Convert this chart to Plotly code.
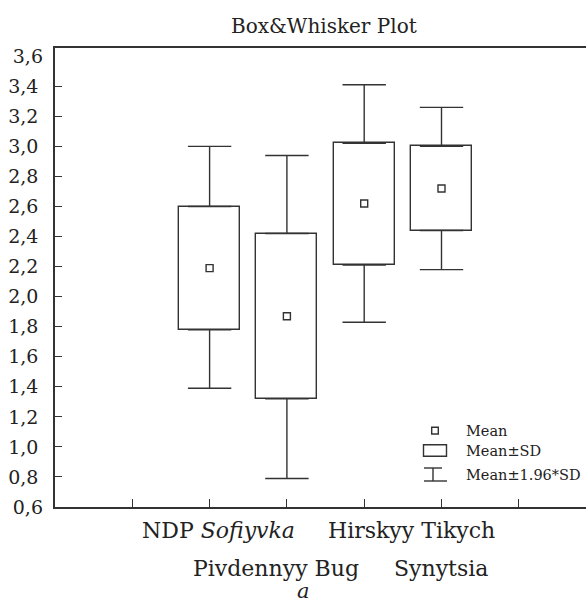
import plotly.graph_objects as go

# values
sites = ["NDP <i>Sofiyvka</i>", "Pivdennyy Bug", "Hirskyy Tikych", "Synytsia"]
site_pos = [2, 3, 4, 5]
means = [2.19, 1.87, 2.62, 2.72]
sd_low = [1.78, 1.32, 2.21, 2.44]
sd_high = [2.60, 2.42, 3.02, 3.00]
ci_low = [1.39, 0.79, 1.83, 2.18]
ci_high = [3.00, 2.94, 3.41, 3.26]
y_ticks = [0.8, 1.0, 1.2, 1.4, 1.6, 1.8, 2.0, 2.2, 2.4, 2.6, 2.8, 3.0, 3.2, 3.4]
y_edge_ticks = [0.6, 3.6]
x_ticks = [1, 2, 3, 4, 5, 6]

W, H = 586, 606
L, T, B = 55, 48, 99
PW, PH = W - L, H - T - B
INK = "#333333"
FONT = "DejaVu Serif"


def px(x, y):
    """pixel position -> paper coords"""
    return (x - L) / PW, 1 - (y - T) / PH


fig = go.Figure()

fig.add_trace(go.Bar(
    x=site_pos, base=sd_low, y=[h - l for h, l in zip(sd_high, sd_low)],
    width=0.79, marker={"color": "white", "line": {"color": INK, "width": 1.4}},
    showlegend=False, hoverinfo="skip",
))
# whiskers (mean +/- 1.96*SD) as one-sided error bars from the box edges
fig.add_trace(go.Scatter(
    x=site_pos, y=sd_high, mode="markers", marker={"size": 1, "opacity": 0},
    error_y={"type": "data", "symmetric": False,
             "array": [c - s for c, s in zip(ci_high, sd_high)],
             "arrayminus": [0] * 4, "width": 21.7, "thickness": 1.4, "color": INK},
    showlegend=False, hoverinfo="skip",
))
fig.add_trace(go.Scatter(
    x=site_pos, y=sd_low, mode="markers", marker={"size": 1, "opacity": 0},
    error_y={"type": "data", "symmetric": False, "array": [0] * 4,
             "arrayminus": [s - c for s, c in zip(sd_low, ci_low)],
             "width": 21.7, "thickness": 1.4, "color": INK},
    showlegend=False, hoverinfo="skip",
))
fig.add_trace(go.Scatter(
    x=site_pos, y=means, mode="markers",
    marker={"symbol": "square", "size": 7, "color": "white",
            "line": {"color": INK, "width": 1.4}},
    showlegend=False,
))
# second y axis only for the edge labels 0,6 and 3,6 (no ticks there)
fig.add_trace(go.Scatter(x=[None], y=[None], yaxis="y2", showlegend=False))

fig.update_layout(
    width=W, height=H,
    margin={"l": L, "r": 0, "t": T, "b": B},
    plot_bgcolor="white", paper_bgcolor="white",
    separators=", ",
    font={"family": FONT, "size": 19, "color": "#222"},
    xaxis={"range": [0, PW / 77.3], "tickmode": "array", "tickvals": x_ticks,
           "showticklabels": False, "ticks": "inside", "ticklen": 8,
           "tickwidth": 1.4, "tickcolor": INK, "showline": True,
           "linecolor": INK, "linewidth": 1.6, "mirror": True, "automargin": False,
           "showgrid": False, "zeroline": False, "fixedrange": True},
    yaxis={"range": [0.6, 3.655], "tickmode": "array", "tickvals": y_ticks,
           "tickformat": ".1f", "ticks": "inside", "ticklen": 7,
           "tickwidth": 1.4, "tickcolor": INK, "showline": True,
           "linecolor": INK, "linewidth": 1.6, "ticklabelstandoff": 11,
           "automargin": False,
           "showgrid": False, "zeroline": False, "fixedrange": True},
    yaxis2={"range": [0.6, 3.655], "overlaying": "y", "side": "left",
            "tickmode": "array", "tickvals": y_edge_ticks, "tickformat": ".1f",
            "ticks": "", "ticklabelstandoff": 11, "showline": False,
            "automargin": False,
            "showgrid": False, "zeroline": False, "fixedrange": True},
    bargap=0,
)

fx, fy = px(323.5, 26)
fig.add_annotation(text="Box&Whisker Plot", xref="paper", yref="paper", x=fx, y=fy,
                   xanchor="center", yanchor="middle", showarrow=False,
                   font={"size": 20})

# category labels, staggered in two rows as in the original
label_px = [(218.5, 530), (276, 568), (411, 530), (441, 568)]
for name, (lx, ly) in zip(sites, label_px):
    ax, ay = px(lx, ly)
    fig.add_annotation(text=name, xref="paper", yref="paper", x=ax, y=ay,
                       xanchor="center", yanchor="middle", showarrow=False,
                       font={"size": 22})
ax, ay = px(303, 591)
fig.add_annotation(text="<i>a</i>", xref="paper", yref="paper", x=ax, y=ay,
                   xanchor="center", yanchor="middle", showarrow=False,
                   font={"size": 21})

# legend drawn by hand
line = {"color": INK, "width": 1.4}
x0, y0 = px(431.7, 427.3); x1, y1 = px(438.3, 434)
fig.add_shape(type="rect", xref="paper", yref="paper", x0=x0, y0=y0, x1=x1, y1=y1, line=line)
x0, y0 = px(423.5, 444.7); x1, y1 = px(446.5, 456.3)
fig.add_shape(type="rect", xref="paper", yref="paper", x0=x0, y0=y0, x1=x1, y1=y1, line=line)
for (a, b), (c, d) in [((424, 468), (442, 468)), ((424, 481), (447, 481)),
                       ((433, 468), (433, 481))]:
    x0, y0 = px(a, b); x1, y1 = px(c, d)
    fig.add_shape(type="line", xref="paper", yref="paper", x0=x0, y0=y0, x1=x1, y1=y1, line=line)
for txt, ty in [("Mean", 430.5), ("Mean±SD", 451), ("Mean±1.96*SD", 475)]:
    ax, ay = px(464, ty)
    fig.add_annotation(text=txt, xref="paper", yref="paper", x=ax, y=ay,
                       xanchor="left", yanchor="middle", showarrow=False,
                       font={"size": 14.5})

# the page body has an 8px default margin; drop it so the figure sits at 0,0
fig.write_html("out.html", config={"displayModeBar": False},
               post_script="document.body.style.margin='0';")
